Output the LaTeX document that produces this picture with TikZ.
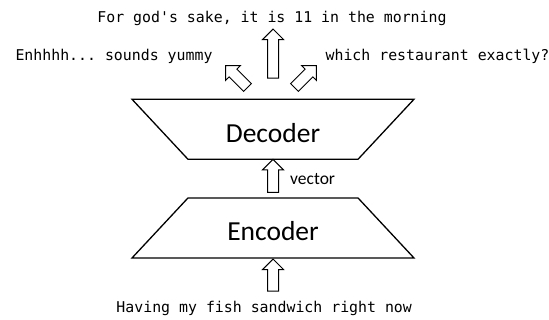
\documentclass[tikz,border=0pt]{standalone}
\usepackage{fontspec}
\setmainfont{Carlito}
\setmonofont{DejaVu Sans Mono}
\usetikzlibrary{calc,positioning,shapes.geometric,shapes.arrows}

\tikzset{
  trap/.style={draw, line width=1.3pt, trapezium, trapezium stretches body=true,
    trapezium left angle=47, trapezium right angle=47,
    minimum width=282pt, inner xsep=0pt, inner ysep=17pt,
    text height=26pt, text depth=0pt, font=\fontsize{27.5}{30}\selectfont},
  blockarrow/.style={draw, line width=1pt, single arrow, single arrow head extend=5pt,
    inner sep=5pt},
  sentence/.style={font=\ttfamily\fontsize{14.87}{16}\selectfont, inner sep=0pt, anchor=base},
}

\begin{document}
\begin{tikzpicture}[x=1pt, y=1pt]
	\useasboundingbox (0,0) rectangle (549,320);
	% encoder and decoder
	\node[trap] (enc) at (273,92) {Encoder};
	\node[trap, shape border rotate=180] (dec) at (273,190.75) {Decoder};
	% arrows
	\node[blockarrow, rotate=90, minimum height=32pt] (inarrow) at (273,42.2) {};
	\node[blockarrow, rotate=90, minimum height=33pt] (vecarrow) at ($(enc.north)!0.5!(dec.south)$) {};
	\node[right=11pt of vecarrow.south, anchor=west, inner sep=0pt,
		font=\fontsize{17.5}{20}\selectfont] (vec) {vector};
	\node[blockarrow, rotate=90, minimum height=49pt] (uparrow) at (273,263.7) {};
	\node[blockarrow, rotate=135, minimum height=31pt] (leftarrow) at (238.5,241.5) {};
	\node[blockarrow, rotate=45, minimum height=31pt] (rightarrow) at (303.5,241.5) {};
	% sentences
	\node[sentence] (input) at (264.2,7.7) {Having my fish sandwich right now};
	\node[sentence] (outup) at (272,297.7) {For god's sake, it is 11 in the morning};
	\node[sentence] (outleft) at (114,259) {Enhhhh... sounds yummy};
	\node[sentence] (outright) at (437.5,259) {which restaurant exactly?};
\end{tikzpicture}
\end{document}
